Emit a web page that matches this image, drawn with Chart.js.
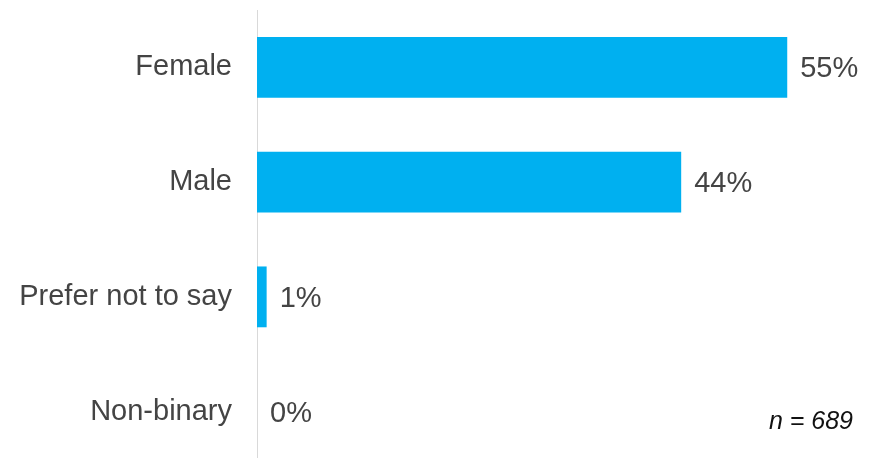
<!DOCTYPE html>
<html>
<head>
<meta charset="utf-8">
<script src="https://cdn.jsdelivr.net/npm/chart.js@4"></script>
<style>
  html, body { margin: 0; padding: 0; background: #fff; overflow: hidden; }
  canvas { display: block; }
</style>
</head>
<body>
<canvas id="grafico" width="874" height="469"></canvas>
<script>
// dados
const categorias = ['Female', 'Male', 'Prefer not to say', 'Non-binary'];
const percentuais = [55, 44, 1, 0];
const rotulos = ['55%', '44%', '1%', '0%'];
const nota = 'n = 689';

const corBarra = '#00B0F0';
const corTexto = '#444444';
const fonte = "'Liberation Sans', Arial, sans-serif";

// escreve o valor ao lado de cada barra + a nota "n = ..."
const pluginRotulos = {
  id: 'rotulos',
  afterDatasetsDraw(chart) {
    const ctx = chart.ctx;
    const meta = chart.getDatasetMeta(0);
    ctx.save();
    ctx.fillStyle = corTexto;
    ctx.font = '29px ' + fonte;
    ctx.textAlign = 'left';
    ctx.textBaseline = 'middle';
    meta.data.forEach((barra, i) => {
      ctx.fillText(rotulos[i], barra.x + 13, barra.y + 2);
    });

    // nota do tamanho da amostra, alinhada com a última categoria
    const ultima = meta.data[meta.data.length - 1];
    ctx.fillStyle = '#111';
    ctx.font = 'italic 25px ' + fonte;
    ctx.textAlign = 'right';
    ctx.fillText(nota, 853, ultima.y + 10);
    ctx.restore();
  }
};

new Chart(document.getElementById('grafico'), {
  type: 'bar',
  data: {
    labels: categorias,
    datasets: [{
      data: percentuais,
      backgroundColor: corBarra,
      borderWidth: 0,
      categoryPercentage: 1,
      barPercentage: 0.53
    }]
  },
  options: {
    indexAxis: 'y',
    responsive: false,
    animation: false,
    layout: { padding: { top: 10, right: 0, bottom: 0, left: 0 } },
    plugins: {
      legend: { display: false },
      tooltip: { enabled: false }
    },
    scales: {
      x: {
        display: false,
        min: 0,
        max: 64
      },
      y: {
        afterFit(escala) {
          escala.width = 257;
          escala.paddingTop = 0;
          escala.paddingBottom = 0;
        },
        grid: { display: false, drawTicks: false },
        border: { display: true, color: '#d9d9d9', width: 1 },
        ticks: {
          color: corTexto,
          padding: 25,
          font: { family: fonte, size: 29 }
        }
      }
    }
  },
  plugins: [pluginRotulos]
});
</script>
</body>
</html>
